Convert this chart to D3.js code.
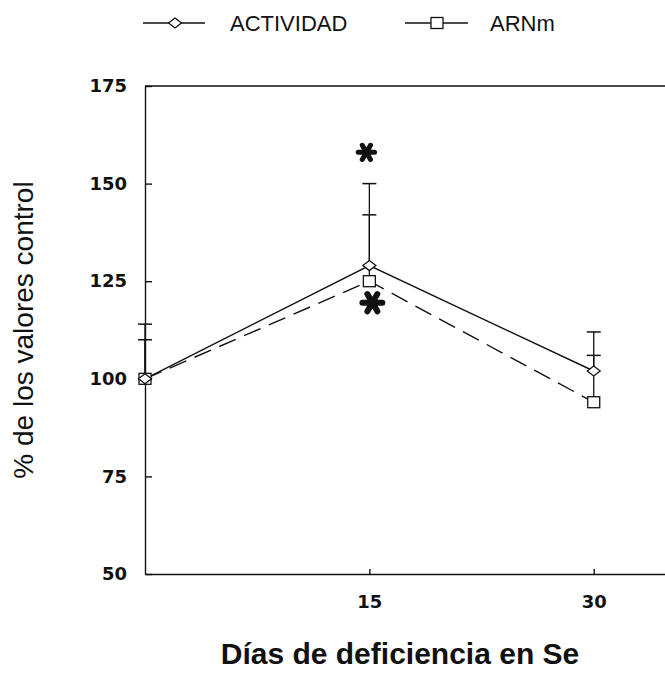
<!DOCTYPE html>
<html>
<head>
<meta charset="utf-8">
<script src="https://cdn.jsdelivr.net/npm/d3@7"></script>
<style>
body{margin:0;background:#fff;}
</style>
</head>
<body>
<script>
// datos
var dias = [0, 15, 30];
var actividad = [100, 129, 102];
var actividadErr = [114, 150, 112];   // extremo superior de la barra
var arnm = [100, 125, 94];
var arnmErr = [110, 142, 106];
var yTicks = [50, 75, 100, 125, 150, 175];
var xTicks = [15, 30];
var asteriscos = [[14.8, 158], [15.2, 119.5]];
var leyenda = ["ACTIVIDAD", "ARNm"];

var width = 665, height = 673;

var x = d3.scaleLinear().domain([0, 35.5]).range([145, 676]);
var y = d3.scaleLinear().domain([50, 175]).range([574, 86]);

var svg = d3.select("body").append("svg")
    .attr("width", width).attr("height", height);

//ejes
var yAxis = d3.axisLeft(y).tickValues(yTicks).tickSize(-7).tickSizeOuter(0).tickPadding(18);
var gy = svg.append("g").attr("transform", "translate(" + x(0) + ",0)").call(yAxis);
gy.selectAll("text").attr("font-family", "DejaVu Sans").attr("font-weight", "bold")
    .attr("font-size", 18).attr("fill", "#111");

var xAxis = d3.axisBottom(x).tickValues(xTicks).tickSize(-5).tickSizeOuter(0).tickPadding(21);
var gx = svg.append("g").attr("transform", "translate(0," + y(50) + ")").call(xAxis);
gx.selectAll("text").attr("font-family", "DejaVu Sans").attr("font-weight", "bold")
    .attr("font-size", 18).attr("fill", "#111");

svg.selectAll(".domain, .tick line").attr("stroke", "#111").attr("stroke-width", 1.4);

// linea superior del marco
svg.append("line").attr("x1", x(0)).attr("x2", width)
    .attr("y1", y(175)).attr("y2", y(175))
    .attr("stroke", "#111").attr("stroke-width", 1.4);

// lineas
var line = d3.line().x(function(d){return x(d[0]);}).y(function(d){return y(d[1]);});
svg.append("path").datum(d3.zip(dias, actividad)).attr("d", line)
    .attr("fill", "none").attr("stroke", "#111").attr("stroke-width", 1.4);
svg.append("path").datum(d3.zip(dias, arnm)).attr("d", line)
    .attr("fill", "none").attr("stroke", "#111").attr("stroke-width", 1.4)
    .attr("stroke-dasharray", "18,9");

// barras de error
function errores(vals, errs){
    for(var i=0;i<dias.length;i++){
        var cx = x(dias[i]);
        svg.append("line").attr("x1", cx).attr("x2", cx)
            .attr("y1", y(vals[i])).attr("y2", y(errs[i]))
            .attr("stroke", "#111").attr("stroke-width", 1.3);
        svg.append("line").attr("x1", cx-7).attr("x2", cx+7)
            .attr("y1", y(errs[i])).attr("y2", y(errs[i]))
            .attr("stroke", "#111").attr("stroke-width", 1.5);
    }
}
errores(actividad, actividadErr);
errores(arnm, arnmErr);

// marcadores
function cuadrado(g, cx, cy){
    g.append("rect").attr("x", cx-6).attr("y", cy-5.5).attr("width", 12).attr("height", 11)
        .attr("fill", "#fff").attr("stroke", "#111").attr("stroke-width", 1.3);
}
function rombo(g, cx, cy){
    g.append("path").attr("d", "M" + (cx-6.5) + "," + cy + "L" + cx + "," + (cy-5) +
        "L" + (cx+6.5) + "," + cy + "L" + cx + "," + (cy+5) + "Z")
        .attr("fill", "#fff").attr("stroke", "#111").attr("stroke-width", 1.3);
}
for(var i=0;i<dias.length;i++){ cuadrado(svg, x(dias[i]), y(arnm[i])); }
for(var i=0;i<dias.length;i++){ rombo(svg, x(dias[i]), y(actividad[i])); }

// asteriscos
var ast = d3.symbol().type(d3.symbolAsterisk);
svg.selectAll(".ast").data(asteriscos).enter().append("path")
    .attr("d", function(d, i){ return ast.size(i===0 ? 190 : 280)(); })
    .attr("transform", function(d){ return "translate(" + x(d[0]) + "," + y(d[1]) + ") rotate(90)"; })
    .attr("fill", "none").attr("stroke", "#111")
    .attr("stroke-width", function(d, i){ return i===0 ? 5 : 6; })
    .attr("stroke-linecap", "round");

// leyenda
var leg = svg.append("g");
leg.append("line").attr("x1", 143).attr("x2", 205).attr("y1", 23).attr("y2", 23)
    .attr("stroke", "#111").attr("stroke-width", 1.3);
rombo(leg, 175, 23);
leg.append("text").attr("x", 230).attr("y", 31).text(leyenda[0])
    .attr("font-family", "Liberation Sans").attr("font-size", 22).attr("fill", "#111");
leg.append("line").attr("x1", 405).attr("x2", 468).attr("y1", 23).attr("y2", 23)
    .attr("stroke", "#111").attr("stroke-width", 1.3);
cuadrado(leg, 437, 23);
leg.append("text").attr("x", 490).attr("y", 31).text(leyenda[1])
    .attr("font-family", "Liberation Sans").attr("font-size", 22).attr("fill", "#111");

// titulos
svg.append("text").attr("transform", "translate(33,330) rotate(-90)")
    .attr("text-anchor", "middle").text("% de los valores control")
    .attr("font-family", "Liberation Sans").attr("font-size", 28).attr("fill", "#111");
svg.append("text").attr("x", 400).attr("y", 664).attr("text-anchor", "middle")
    .text("Días de deficiencia en Se")
    .attr("font-family", "Liberation Sans").attr("font-weight", "bold")
    .attr("font-size", 30).attr("fill", "#111");
</script>
</body>
</html>
